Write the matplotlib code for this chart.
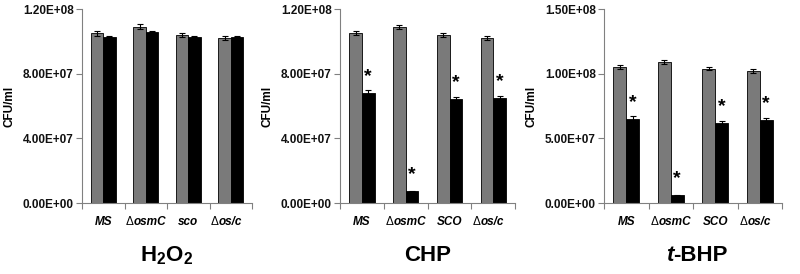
import numpy as np
import matplotlib.pyplot as plt

plt.rcParams['font.family'] = ['Liberation Sans', 'DejaVu Sans']
plt.rcParams['mathtext.fontset'] = 'custom'
plt.rcParams['mathtext.rm'] = 'Liberation Sans'
plt.rcParams['mathtext.bf'] = 'Liberation Sans:bold'
plt.rcParams['mathtext.it'] = 'Liberation Sans:italic'

strains_1 = ['MS', 'osmC', 'sco', 'os/c']
strains_2 = ['MS', 'osmC', 'SCO', 'os/c']
delta = [False, True, False, True]

# H2O2
h2o2_ctrl = [1.05e8, 1.09e8, 1.04e8, 1.02e8]
h2o2_ctrl_err = [1.5e6, 1.5e6, 1.3e6, 1.3e6]
h2o2_trt = [1.03e8, 1.06e8, 1.03e8, 1.03e8]
h2o2_trt_err = [5e5, 5e5, 4e5, 4e5]

# CHP
chp_ctrl = [1.05e8, 1.09e8, 1.04e8, 1.02e8]
chp_ctrl_err = [1.2e6, 1.2e6, 1.2e6, 1.2e6]
chp_trt = [6.82e7, 7.2e6, 6.41e7, 6.47e7]
chp_trt_err = [1.8e6, 2e5, 1.6e6, 1.6e6]

# t-BHP
tbhp_ctrl = [1.05e8, 1.09e8, 1.04e8, 1.02e8]
tbhp_ctrl_err = [1.5e6, 1.5e6, 1.5e6, 1.5e6]
tbhp_trt = [6.5e7, 5.9e6, 6.19e7, 6.39e7]
tbhp_trt_err = [2e6, 3e5, 1.8e6, 1.8e6]

panels = [
    (h2o2_ctrl, h2o2_ctrl_err, h2o2_trt, h2o2_trt_err, strains_1, 1.2e8,
     [0, 4e7, 8e7, 1.2e8], ['0.00E+00', '4.00E+07', '8.00E+07', '1.20E+08'],
     r'$\mathbf{H_2O_2}$', False),
    (chp_ctrl, chp_ctrl_err, chp_trt, chp_trt_err, strains_2, 1.2e8,
     [0, 4e7, 8e7, 1.2e8], ['0.00E+00', '4.00E+07', '8.00E+07', '1.20E+08'],
     'CHP', True),
    (tbhp_ctrl, tbhp_ctrl_err, tbhp_trt, tbhp_trt_err, strains_2, 1.5e8,
     [0, 5e7, 1e8, 1.5e8], ['0.00E+00', '5.00E+07', '1.00E+08', '1.50E+08'],
     't-BHP', True),
]

boxes = [(0.1025, 0.2125), (0.425, 0.219), (0.755, 0.2225)]

fig = plt.figure(figsize=(8, 2.74), dpi=100)
x = np.arange(4)
w = 0.29
for (ctrl, cerr, trt, terr, names, ymax, yt, ytl, title, star), (l, wd) in zip(panels, boxes):
    ax = fig.add_axes([l, 0.259, wd, 0.708])
    ax.bar(x - w / 2, ctrl, w, color='#7a7a7a', edgecolor='black', linewidth=0.6,
           yerr=cerr, error_kw=dict(ecolor='black', elinewidth=0.8, capsize=2, capthick=0.8))
    ax.bar(x + w / 2, trt, w, color='black', edgecolor='black', linewidth=0.6,
           yerr=terr, error_kw=dict(ecolor='black', elinewidth=0.8, capsize=2, capthick=0.8))
    if star:
        for xi, v in zip(x, trt):
            ax.text(xi + w / 2, v + 0.085 * ymax, '*', ha='center', va='center',
                    fontsize=14, fontweight='bold')
    ax.set_xlim(-0.5, 3.5)
    ax.set_ylim(0, ymax)
    ax.set_yticks(yt)
    ax.set_yticklabels(ytl, fontsize=8.5, fontweight='bold', color='#111111')
    ax.set_xticks(np.arange(5) - 0.5)
    ax.set_xticklabels([])
    ax.tick_params(axis='x', length=4, color='#808080', direction='out')
    ax.tick_params(axis='y', length=4, color='#808080', direction='out', pad=2)
    for xi, name, d in zip(x, names, delta):
        if d:
            ax.annotate('\u0394', (xi, 0), xytext=(-9, -14), textcoords='offset points',
                        ha='right', va='center', fontsize=8.5)
            ax.annotate(name, (xi, 0), xytext=(-9, -14), textcoords='offset points',
                        ha='left', va='center', fontsize=8.5, fontweight='bold',
                        style='italic')
        else:
            ax.annotate(name, (xi, 0), xytext=(0, -14), textcoords='offset points',
                        ha='center', va='center', fontsize=8.5, fontweight='bold',
                        style='italic')
    ax.spines['top'].set_visible(False)
    ax.spines['right'].set_visible(False)
    ax.spines['left'].set_color('#808080')
    ax.spines['bottom'].set_color('#808080')
    ax.set_ylabel('CFU/ml', fontsize=8.5, fontweight='bold', labelpad=5)
    if title.startswith('t-'):
        ax.annotate('t', (0.5, -0.27), xycoords='axes fraction', xytext=(-14, 0),
                    textcoords='offset points', ha='right', va='center',
                    fontsize=16, fontweight='bold', style='italic')
        ax.annotate(title[1:], (0.5, -0.27), xycoords='axes fraction', xytext=(-14, 0),
                    textcoords='offset points', ha='left', va='center',
                    fontsize=16, fontweight='bold')
    else:
        ax.text(0.5, -0.27, title, transform=ax.transAxes, ha='center', va='center',
                fontsize=16, fontweight='bold')

fig.savefig('out.png', dpi=100)
